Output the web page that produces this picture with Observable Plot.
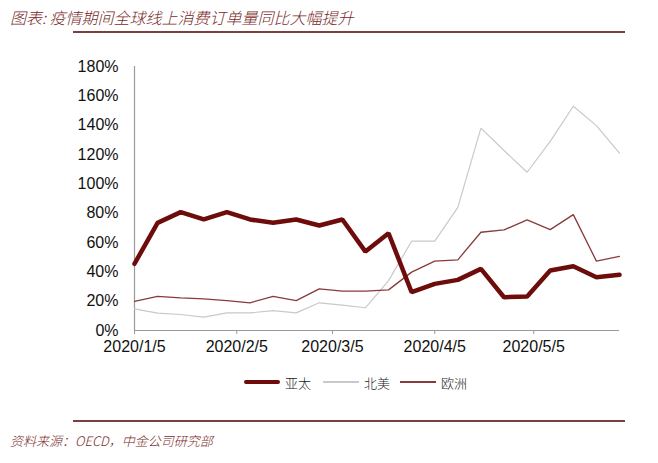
<!DOCTYPE html>
<html>
<head>
<meta charset="utf-8">
<script src="https://cdn.jsdelivr.net/npm/d3@7"></script>
<script src="https://cdn.jsdelivr.net/npm/@observablehq/plot@0.6"></script>
<style>
  html, body { margin: 0; padding: 0; background: #fff; }
  #wrap { position: relative; width: 658px; height: 463px; overflow: hidden; font-family: "Liberation Sans", Arial, sans-serif; }
  #title { position: absolute; left: 10px; top: 7px; font-family: "Noto Sans CJK SC", sans-serif; font-weight: 300; font-style: italic; font-size: 16px; color: #7a2a2a; white-space: nowrap; line-height: 20px; }
  .rule { position: absolute; left: 73px; width: 552px; height: 2px; background: #7a4040; }
  #source { position: absolute; left: 10px; top: 432px; font-family: "Noto Sans CJK SC", sans-serif; font-weight: 300; font-style: italic; font-size: 13px; color: #7a2a2a; white-space: nowrap; line-height: 18px; }
  #chart { position: absolute; left: 0; top: 0; }
  #legend { position: absolute; top: 372px; left: 0; width: 658px; height: 20px; font-family: "Noto Sans CJK SC", sans-serif; font-weight: 300; font-size: 13px; color: #222; }
  .lg { position: absolute; top: 0; display: flex; align-items: center; height: 20px; }
  .sw { width: 36px; margin-right: 5px; }
</style>
</head>
<body>
<div id="wrap">
  <div id="title">图表: 疫情期间全球线上消费订单量同比大幅提升</div>
  <div class="rule" style="top:31px"></div>
  <div id="chart"></div>
  <div id="legend"></div>
  <div class="rule" style="top:420px"></div>
  <div id="source">资料来源：OECD，中金公司研究部</div>
</div>
<script>
// Weekly dates
const dates = ["2020/1/5","2020/1/12","2020/1/19","2020/1/26","2020/2/2","2020/2/9","2020/2/16","2020/2/23",
  "2020/3/1","2020/3/8","2020/3/15","2020/3/22","2020/3/29","2020/4/5","2020/4/12","2020/4/19","2020/4/26",
  "2020/5/3","2020/5/10","2020/5/17","2020/5/24","2020/5/31"];
// Series values (%)
const asiaPacific = [45.5,73.4,80.7,75.7,80.7,75.7,73.4,75.7,71.6,75.7,53.8,66.3,26.1,31.8,34.5,42.0,22.7,23.2,40.9,43.8,36.3,38.0];
const northAmerica = [14.8,11.8,10.9,9.1,12.0,12.0,13.6,12.0,18.9,17.3,15.5,34.0,60.9,60.9,84.0,138.0,122.7,107.9,129.0,152.9,139.7,121.0];
const europe = [19.8,23.2,22.3,21.6,20.4,18.9,23.2,20.4,28.4,26.8,26.8,27.7,39.8,47.3,48.2,67.0,68.6,75.4,68.8,79.0,47.3,50.6];
const seriesNames = ["亚太","北美","欧洲"];
const xTickLabels = ["2020/1/5","2020/2/5","2020/3/5","2020/4/5","2020/5/5"];
const yTicks = [0,20,40,60,80,100,120,140,160,180];

const parse = s => { const [y,m,d] = s.split("/").map(Number); return new Date(Date.UTC(y, m-1, d)); };
const fmt = d => `${d.getUTCFullYear()}/${d.getUTCMonth()+1}/${d.getUTCDate()}`;

const colors = {"亚太": "#6e0b0b", "北美": "#c9c9c9", "欧洲": "#8a3a3a"};
const widths = {"亚太": 4.5, "北美": 1.2, "欧洲": 1.3};

const seriesVals = [asiaPacific, northAmerica, europe];
const rows = [];
seriesNames.forEach((name, i) => {
  dates.forEach((d, j) => rows.push({series: name, date: parse(d), value: seriesVals[i][j]}));
});

const x0 = parse(dates[0]), x1 = parse(dates[dates.length-1]);

const drawOrder = ["北美","欧洲","亚太"];
const chart = Plot.plot({
  width: 658,
  height: 372,
  marginLeft: 134,
  marginRight: 39,
  marginTop: 66,
  marginBottom: 42,
  style: {fontFamily: '"Liberation Sans", Arial, sans-serif', fontSize: "16px", color: "#111", background: "transparent"},
  x: {type: "utc", domain: [x0, x1]},
  y: {domain: [0, 180]},
  marks: [
    Plot.ruleX([x0], {stroke: "#999", strokeWidth: 1.2}),
    Plot.ruleY([0], {stroke: "#999", strokeWidth: 1.2}),
    Plot.axisY({ticks: yTicks, tickSize: 0, tickPadding: 16, tickFormat: d => d + "%", fontSize: 16, label: null}),
    Plot.axisX({ticks: xTickLabels.map(parse), tickSize: 4, tickPadding: 6, tickFormat: fmt, fontSize: 16, label: null, stroke: "#999"}),
    ...drawOrder.map(name => Plot.lineY(rows.filter(r => r.series === name), {
      x: "date", y: "value", stroke: colors[name], strokeWidth: widths[name], strokeLinejoin: "miter"
    }))
  ]
});
document.getElementById("chart").appendChild(chart);

// Legend
const legend = document.getElementById("legend");
const legendX = {"亚太": 244, "北美": 323, "欧洲": 400};
seriesNames.forEach(name => {
  const item = document.createElement("div");
  item.className = "lg";
  item.style.left = legendX[name] + "px";
  const sw = document.createElement("div");
  sw.className = "sw";
  sw.style.height = widths[name] + "px";
  sw.style.background = colors[name];
  if (name === "亚太") sw.style.borderRadius = "2px";
  const t = document.createElement("span");
  t.textContent = name;
  item.appendChild(sw); item.appendChild(t);
  legend.appendChild(item);
});
</script>
</body>
</html>
